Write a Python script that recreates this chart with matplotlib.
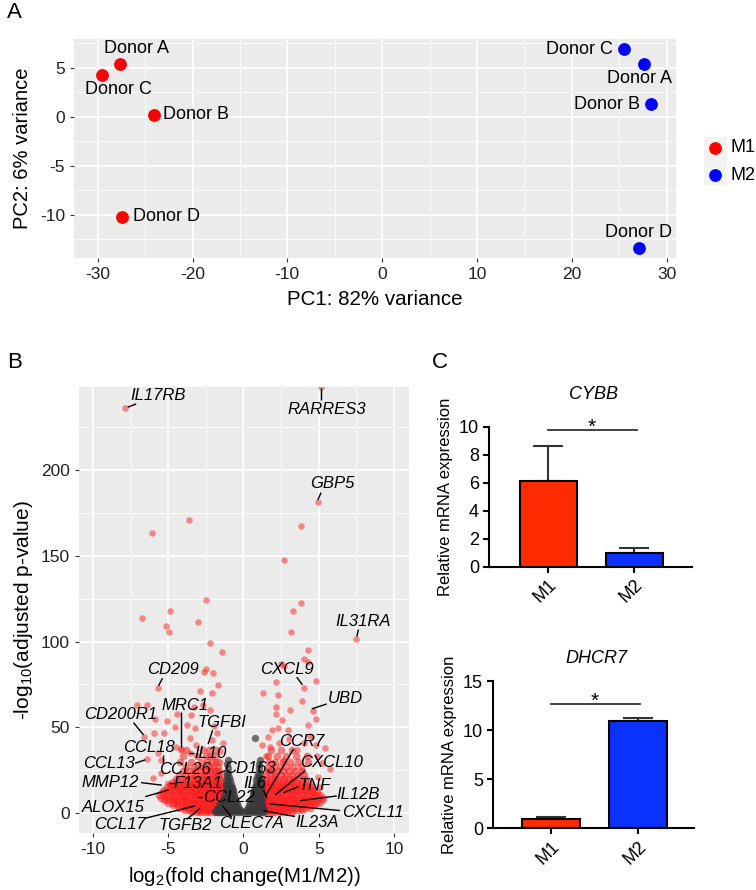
import matplotlib
matplotlib.use("Agg")
import matplotlib.pyplot as plt
import numpy as np
from matplotlib.patches import Rectangle

plt.rcParams['font.family'] = ['Liberation Sans', 'DejaVu Sans']
plt.rcParams['axes.unicode_minus'] = False

# ---------------- data: panel A (PCA) ----------------
donors = ['Donor A', 'Donor B', 'Donor C', 'Donor D']
m1_pc1 = [-27.6, -24.1, -29.5, -27.4]
m1_pc2 = [5.4, 0.15, 4.3, -10.25]
m2_pc1 = [27.6, 28.4, 25.5, 27.1]
m2_pc2 = [5.4, 1.35, 6.9, -13.35]
groups = ['M1', 'M2']
group_colors = ['#FF0000', '#0000FF']

# label positions (text centres) for the donors
m1_lab_x = [-25.9, -19.6, -27.8, -22.7]
m1_lab_y = [6.95, 0.2, 2.8, -10.2]
m2_lab_x = [27.1, 23.7, 20.8, 27.0]
m2_lab_y = [3.9, 1.3, 6.85, -11.75]

# ---------------- data: panel B (volcano) ----------------
# dense part of the cloud, read row by row: (y, [x values])
red_left_rows = [
    (0.3, [-3.4, -3.1, -2.9, -2.6, -2.4, -2.2, -1.9, -1.7, -1.5, -1.3, -1.1]),
    (1.5, [-3.9, -3.6, -3.3, -3.0, -2.8, -2.5, -2.3, -2.0, -1.8, -1.6, -1.4, -1.2, -1.0]),
    (3.0, [-4.3, -4.0, -3.7, -3.5, -3.2, -2.9, -2.7, -2.4, -2.2, -1.9, -1.7, -1.5, -1.3, -1.1]),
    (4.5, [-4.7, -4.4, -4.1, -3.8, -3.5, -3.3, -3.0, -2.7, -2.5, -2.2, -2.0, -1.8, -1.6, -1.4, -1.2]),
    (6.0, [-5.0, -4.7, -4.4, -4.1, -3.9, -3.6, -3.3, -3.1, -2.8, -2.6, -2.3, -2.1, -1.9, -1.7, -1.5, -1.2]),
    (7.5, [-5.3, -5.0, -4.7, -4.5, -4.2, -3.9, -3.7, -3.4, -3.1, -2.9, -2.6, -2.4, -2.2, -2.0, -1.7, -1.5, -1.3]),
    (9.0, [-5.5, -5.2, -4.9, -4.6, -4.3, -4.0, -3.8, -3.5, -3.2, -3.0, -2.7, -2.5, -2.3, -2.0, -1.8, -1.6, -1.3]),
    (10.5, [-5.6, -5.3, -5.0, -4.7, -4.4, -4.1, -3.8, -3.6, -3.3, -3.1, -2.8, -2.6, -2.3, -2.1, -1.9, -1.6, -1.4]),
    (12.0, [-5.4, -5.1, -4.8, -4.5, -4.2, -4.0, -3.7, -3.4, -3.2, -2.9, -2.7, -2.4, -2.2, -2.0, -1.7, -1.5, -1.3]),
    (13.5, [-5.3, -4.9, -4.6, -4.3, -4.1, -3.8, -3.5, -3.3, -3.0, -2.8, -2.5, -2.3, -2.1, -1.8, -1.6, -1.4]),
    (15.0, [-5.1, -4.8, -4.5, -4.2, -3.9, -3.6, -3.4, -3.1, -2.9, -2.6, -2.4, -2.2, -1.9, -1.7, -1.5]),
    (16.5, [-4.9, -4.6, -4.3, -4.0, -3.7, -3.5, -3.2, -3.0, -2.7, -2.5, -2.3, -2.0, -1.8, -1.6, -1.4]),
    (18.0, [-4.7, -4.4, -4.1, -3.8, -3.6, -3.3, -3.1, -2.8, -2.6, -2.4, -2.1, -1.9, -1.7, -1.5]),
    (20.0, [-4.5, -4.1, -3.8, -3.5, -3.2, -3.0, -2.7, -2.5, -2.2, -2.0, -1.8, -1.6]),
    (22.0, [-4.3, -3.9, -3.5, -3.2, -2.9, -2.6, -2.4, -2.1, -1.9, -1.7, -1.5]),
    (24.5, [-4.0, -3.6, -3.2, -2.8, -2.5, -2.2, -2.0, -1.8, -1.6]),
    (27.0, [-3.8, -3.3, -3.0, -2.6, -2.3, -2.0, -1.7]),
    (30.0, [-4.2, -3.5, -2.8, -2.4, -2.1, -1.8, -1.6]),
    (33.5, [-4.0, -3.1, -2.5, -2.2, -1.9]),
    (37.0, [-3.8, -2.7, -2.3, -1.8]),
]
red_right_rows = [
    (0.3, [1.1, 1.3, 1.5, 1.7, 1.9, 2.1, 2.4, 2.6, 2.9, 3.2]),
    (1.5, [1.0, 1.2, 1.4, 1.6, 1.8, 2.0, 2.3, 2.5, 2.8, 3.0, 3.3, 3.6, 3.9]),
    (3.0, [1.1, 1.3, 1.5, 1.7, 1.9, 2.2, 2.4, 2.7, 2.9, 3.2, 3.5, 3.8, 4.1, 4.4]),
    (4.5, [1.1, 1.3, 1.5, 1.7, 2.0, 2.2, 2.5, 2.7, 3.0, 3.3, 3.5, 3.8, 4.1, 4.4, 4.7]),
    (6.0, [1.2, 1.4, 1.6, 1.8, 2.1, 2.3, 2.6, 2.8, 3.1, 3.4, 3.6, 3.9, 4.2, 4.5, 4.8, 5.0]),
    (7.5, [1.2, 1.4, 1.7, 1.9, 2.1, 2.4, 2.6, 2.9, 3.2, 3.4, 3.7, 4.0, 4.3, 4.6, 4.9, 5.2]),
    (9.0, [1.2, 1.5, 1.7, 1.9, 2.2, 2.4, 2.7, 3.0, 3.2, 3.5, 3.8, 4.1, 4.4, 4.7, 5.0, 5.3]),
    (10.5, [1.3, 1.5, 1.7, 2.0, 2.2, 2.5, 2.8, 3.0, 3.3, 3.6, 3.9, 4.2, 4.5, 4.8, 5.1]),
    (12.0, [1.3, 1.5, 1.8, 2.0, 2.3, 2.5, 2.8, 3.1, 3.4, 3.7, 4.0, 4.3, 4.6, 4.9]),
    (13.5, [1.3, 1.6, 1.8, 2.1, 2.3, 2.6, 2.9, 3.2, 3.5, 3.8, 4.1, 4.4, 4.7]),
    (15.0, [1.4, 1.6, 1.9, 2.1, 2.4, 2.7, 3.0, 3.3, 3.6, 3.9, 4.2, 4.5]),
    (16.5, [1.4, 1.7, 1.9, 2.2, 2.5, 2.8, 3.1, 3.4, 3.7, 4.0, 4.4]),
    (18.0, [1.4, 1.7, 2.0, 2.3, 2.6, 2.9, 3.2, 3.5, 3.9, 4.2]),
    (20.0, [1.5, 1.8, 2.1, 2.4, 2.7, 3.0, 3.3, 3.7, 4.1]),
    (22.0, [1.5, 1.8, 2.1, 2.5, 2.8, 3.2, 3.6, 4.0]),
    (24.5, [1.6, 1.9, 2.3, 2.6, 3.0, 3.4, 3.9]),
    (27.0, [1.6, 2.0, 2.4, 2.8, 3.3, 3.8]),
    (30.0, [1.7, 2.1, 2.6, 3.1, 3.6, 4.3]),
    (33.5, [1.6, 2.2, 2.8, 3.5, 4.2]),
    (37.0, [1.8, 2.5, 3.2]),
]
gray_rows = [
    (0.3, [-1.9, -1.7, -1.5, -1.3, -1.1, -0.9, -0.7, -0.5, -0.3, -0.1, 0.1, 0.3, 0.5, 0.7, 0.9, 1.1, 1.3]),
    (1.5, [-1.8, -1.6, -1.4, -1.2, -1.0, -0.8, -0.6, -0.4, -0.2, 0.2, 0.4, 0.6, 0.8, 1.0, 1.2, 1.35]),
    (3.0, [-1.7, -1.5, -1.3, -1.1, -0.9, -0.7, -0.5, -0.3, 0.3, 0.5, 0.7, 0.9, 1.1, 1.3]),
    (4.5, [-1.6, -1.4, -1.2, -1.0, -0.8, -0.6, -0.4, 0.4, 0.6, 0.8, 1.0, 1.2]),
    (6.0, [-1.45, -1.25, -1.05, -0.85, -0.65, -0.45, 0.45, 0.65, 0.85, 1.05, 1.2]),
    (7.5, [-1.35, -1.15, -0.95, -0.75, -0.55, 0.5, 0.7, 0.9, 1.1, 1.2]),
    (9.0, [-1.3, -1.1, -0.9, -0.7, -0.55, 0.55, 0.75, 0.95, 1.15]),
    (10.5, [-1.2, -1.05, -0.9, -0.75, -0.6, 0.6, 0.75, 0.9, 1.05, 1.15]),
    (12.0, [-1.15, -1.0, -0.85, -0.7, 0.65, 0.8, 0.95, 1.1]),
    (13.5, [-1.15, -1.0, -0.85, -0.7, 0.7, 0.85, 1.0, 1.15]),
    (15.0, [-1.15, -1.0, -0.85, -0.75, 0.75, 0.85, 1.0, 1.15]),
    (17.0, [-1.15, -1.0, -0.85, 0.8, 0.95, 1.1]),
    (19.0, [-1.15, -1.0, -0.9, 0.85, 1.0, 1.15]),
    (21.0, [-1.1, -0.95, 0.9, 1.05]),
    (23.5, [-1.1, -1.0, 0.95, 1.1]),
    (26.0, [-1.05, 1.0]),
    (28.5, [-1.1, 1.05]),
    (31.0, [-1.0, 1.1]),
    (44.0, [0.78]),
]
# scattered significant genes above the dense cloud
red_scatter_x = [-7.9, -6.07, -3.6, -2.5, -4.87, -6.76, -5.14, -3.01, -4.94, -2.21, -1.4,
                 -2.5, -2.61, -2.01, -1.66, -5.65, -2.86, -2.06, -7.1, -6.42, -5.9, -5.1,
                 -4.45, -3.28, -2.68, -2.21, -3.52, -4.54, -3.74, -3.19, -6.64, -5.93, -5.3,
                 -3.54, -3.17, -1.99, -2.12, -4.5, -4.12, -6.4, -5.71, -5.45, -1.73, -1.33,
                 -1.55, -4.14, -3.55, -5.0, -6.0, -5.45,
                 5.13, 4.93, 3.8, 2.66, 3.85, 3.28, 3.19, 7.49, 4.32, 4.05, 4.3, 2.48, 2.72,
                 4.8, 4.05, 2.17, 1.33, 2.28, 3.92, 3.1, 2.13, 4.65, 4.8, 2.17, 2.55, 4.27,
                 2.28, 2.94, 1.88, 1.62, 4.43, 4.05, 5.43, 4.8, 1.22, 1.77, 2.33, 3.54, 4.87,
                 5.2, 5.76, 4.98, 5.1, 3.0, 1.5, 2.6]
red_scatter_y = [236.5, 163.5, 171, 124, 118, 114, 109.3, 111.3, 105.8, 99.4, 94.1,
                 83.8, 82.5, 81.7, 74.7, 73, 71.2, 70, 63.2, 63, 54.6, 53.7,
                 57.6, 61.6, 63.2, 60, 57.3, 50.3, 51.5, 49.6, 44.5, 46.8, 46.5,
                 44, 39.4, 51, 42.6, 38.7, 37.3, 31.7, 35, 31, 46.5, 40.7,
                 36.3, 37, 34.8, 17.5, 20.5, 23.5,
                 248.5, 181.5, 167.5, 147.6, 122.3, 118, 105.6, 101.7, 95.1, 90, 88, 86.9, 85.8,
                 77, 72.8, 76.2, 69.8, 68.8, 65.5, 60, 62, 59.7, 54.6, 57.8, 54.3, 51.3,
                 49.4, 48.4, 48.4, 44.5, 44.9, 41, 37.7, 39.7, 39.7, 38.7, 40.7, 36.8, 33.3,
                 29.3, 25.5, 21.2, 15.4, 43.0, 33.0, 31.0]

# gene labels: text centre, then the leader segment (start -> end)
genes = ['IL17RB', 'RARRES3', 'GBP5', 'IL31RA', 'CD209', 'CXCL9', 'UBD', 'CD200R1',
         'MRC1', 'TGFBI', 'CCL18', 'IL10', 'CCL13', 'CCL26', 'CD163', 'MMP12', 'F13A1',
         'IL6', 'CCR7', 'CXCL10', 'TNF', 'IL12B', 'CCL22', 'ALOX15', 'CXCL11', 'CCL17',
         'TGFB2', 'CLEC7A', 'IL23A']
gene_tx = [-5.69, 5.54, 5.94, 7.97, -4.7, 2.88, 6.76, -8.19, -3.87, -1.4, -6.27, -2.16,
           -8.97, -3.92, 0.42, -8.86, -3.05, 0.73, 3.88, 5.83, 4.72, 7.6, -0.95, -8.64,
           8.57, -8.19, -3.87, 0.55, 4.87]
gene_ty = [243.3, 235.5, 192, 111.6, 83.4, 83.4, 66.9, 57.6, 62.4, 52.7, 38.1, 34.8,
           29, 25.6, 25.7, 17.7, 17.2, 17.3, 41.6, 29.3, 16.3, 10.5, 9.2, 3.3,
           0.4, -6.6, -7.6, -6.4, -5.7]
seg_x0 = [-7.13, 5.13, 5.16, 7.64, -5.38, 3.54, 5.54, -7.31, -4.14, -2.05, -5.37, -3.26,
          -7.2, None, -1.22, -6.8, -4.6, 1.33, 3.32, 4.1, 3.65, 6.2, -2.77, -6.53,
          6.42, -6.53, -3.77, -0.78, 3.43]
seg_y0 = [238.6, 241, 186.9, 107, 78.6, 79.2, 63.6, 52.7, 59, 48.3, 34, 34.8,
          29, None, 24.7, 17.7, 17.2, 13.4, 37.3, 24.7, 15.3, 9.9, 9.2, 9.5,
          1.4, -3.1, -3.7, -2.5, -2.1]
seg_x1 = [-7.69, 5.13, 4.94, 7.53, -5.65, 3.92, 4.54, -6.64, -4.14, -2.35, -5.37, -3.6,
          -6.53, None, -1.77, -5.43, -4.95, 1.55, 1.44, 2.1, 2.66, 3.77, -3.04, -4.98,
          1.71, -3.21, -2.88, -1.4, 1.33]
seg_y1 = [236.7, 248, 182.6, 102.9, 74.1, 74.7, 60.7, 45.5, 38.7, 40.2, 28.9, 34.8,
          31, None, 22.8, 16.2, 17.2, 8.6, 9.5, 10.5, 11.8, 7.2, 9.2, 13.4,
          5.3, 4.1, 2.7, 4.1, 1.3]

# ---------------- data: panel C (qPCR) ----------------
conds = ['M1', 'M2']
bar_colors = ['#FF2A00', '#0A32FF']
cybb_mean = [6.15, 1.0]
cybb_err = [2.45, 0.33]
dhcr7_mean = [0.93, 10.95]
dhcr7_err = [0.22, 0.27]


def rows_to_xy(rows):
    xs, ys = [], []
    for y, row in rows:
        for x in row:
            xs.append(x)
            ys.append(y)
    return xs, ys


fig = plt.figure(figsize=(7.56, 8.9), dpi=100)

# ================= Panel A =================
axA = fig.add_axes([74 / 756, 1 - 258 / 890, 602 / 756, 219 / 890])
axA.set_facecolor('#EBEBEB')
axA.scatter(m1_pc1, m1_pc2, s=85, color=group_colors[0], zorder=3, linewidths=0)
axA.scatter(m2_pc1, m2_pc2, s=85, color=group_colors[1], zorder=3, linewidths=0)
for i, d in enumerate(donors):
    axA.text(m1_lab_x[i], m1_lab_y[i], d, fontsize=13, ha='center', va='center', zorder=4)
    axA.text(m2_lab_x[i], m2_lab_y[i], d, fontsize=13, ha='center', va='center', zorder=4)
axA.set_xlim(-32.5, 31.0)
axA.set_ylim(-14.4, 7.95)
axA.set_xticks([-30, -20, -10, 0, 10, 20, 30])
axA.set_xticks([-25, -15, -5, 5, 15, 25], minor=True)
axA.set_yticks([-10, -5, 0, 5])
axA.set_yticks([-12.5, -7.5, -2.5, 2.5, 7.5], minor=True)
axA.grid(which='major', color='white', lw=1.2)
axA.grid(which='minor', color='white', lw=0.6)
axA.set_axisbelow(True)
for s in axA.spines.values():
    s.set_visible(False)
axA.tick_params(which='major', length=3, color='#333333', labelsize=12.5, labelcolor='#222222')
axA.tick_params(which='minor', length=0)
axA.set_xlabel('PC1: 82% variance', fontsize=14.8, labelpad=6)
axA.set_ylabel('PC2: 6% variance', fontsize=14.5, labelpad=6)

# legend drawn by hand in its own small axes
axL = fig.add_axes([704 / 756, 1 - 185 / 890, 50 / 756, 48 / 890])
axL.set_xlim(0, 50)
axL.set_ylim(48, 0)
axL.axis('off')
axL.add_patch(Rectangle((0, 0), 23, 48, facecolor='#F2F2F2', edgecolor='none', zorder=0))
for i, g in enumerate(groups):
    axL.scatter([11], [11 + 27 * i], s=85, color=group_colors[i], linewidths=0, zorder=2,
                clip_on=False)
    axL.text(26, 11 + 27 * i, g, fontsize=13, va='center', ha='left')

# ================= Panel B =================
axB = fig.add_axes([79 / 756, 1 - 833 / 890, 330 / 756, 446 / 890])
axB.set_facecolor('#EBEBEB')
rx1, ry1 = rows_to_xy(red_left_rows)
rx2, ry2 = rows_to_xy(red_right_rows)
gx, gy = rows_to_xy(gray_rows)
axB.scatter(rx1 + rx2, ry1 + ry2, s=30, color='#FF2020', alpha=0.55, linewidths=0, zorder=2)
axB.scatter(red_scatter_x, red_scatter_y, s=22, color='#FF2020', alpha=0.5, linewidths=0, zorder=2)
axB.scatter(gx, gy, s=28, color='#3A3A3A', alpha=0.7, linewidths=0, zorder=3)
for i, g in enumerate(genes):
    axB.text(gene_tx[i], gene_ty[i], g, fontsize=12, style='italic', ha='center',
             va='center', zorder=5)
    if seg_x0[i] is not None:
        axB.plot([seg_x0[i], seg_x1[i]], [seg_y0[i], seg_y1[i]], color='black', lw=1,
                 zorder=4, solid_capstyle='butt')
axB.set_xlim(-10.93, 11.0)
axB.set_ylim(-11.7, 248.5)
axB.set_xticks([-10, -5, 0, 5, 10])
axB.set_xticks([-7.5, -2.5, 2.5, 7.5], minor=True)
axB.set_yticks([0, 50, 100, 150, 200])
axB.set_yticks([25, 75, 125, 175, 225], minor=True)
axB.grid(which='major', color='white', lw=1.2)
axB.grid(which='minor', color='white', lw=0.6)
axB.set_axisbelow(True)
for s in axB.spines.values():
    s.set_visible(False)
axB.tick_params(which='major', length=3, color='#333333', labelsize=12.5, labelcolor='#222222')
axB.tick_params(which='minor', length=0)
axB.set_xlabel(r'log$_{\mathregular{2}}$(fold change(M1/M2))', fontsize=14.8, labelpad=6)
axB.set_ylabel(r'-log$_{\mathregular{10}}$(adjusted p-value)', fontsize=15, labelpad=4)


# ================= Panel C =================
def bar_panel(rect, means, errs, ylim, yticks, xlim, title, title_y, sig_y, star_y):
    ax = fig.add_axes(rect)
    xpos = np.arange(len(conds))
    ax.bar(xpos, means, width=0.67, color=bar_colors, edgecolor='black', linewidth=1.5, zorder=2)
    ax.errorbar(xpos, means, yerr=[np.zeros(len(errs)), errs], fmt='none', ecolor='#333333',
                elinewidth=1.5, capsize=11, capthick=1.5, zorder=1)
    ax.set_xlim(*xlim)
    ax.set_ylim(*ylim)
    ax.set_yticks(yticks)
    ax.set_xticks(xpos)
    ax.set_xticklabels(conds, rotation=45, ha='right', rotation_mode='anchor', fontsize=13)
    for s in ['top', 'right']:
        ax.spines[s].set_visible(False)
    for s in ['left', 'bottom']:
        ax.spines[s].set_linewidth(1.5)
    ax.tick_params(width=1.5, length=4, labelsize=13)
    ax.tick_params(axis='x', pad=3)
    ax.set_ylabel('Relative mRNA expression', fontsize=12, labelpad=4)
    ax.text(0.52, title_y, title, style='italic', fontsize=13, ha='center', va='center')
    ax.plot([0, 1.03], [sig_y, sig_y], color='#333333', lw=1.3, clip_on=False)
    ax.text(0.5, star_y, '*', fontsize=15, ha='center', va='baseline')
    return ax


bar_panel([489.3 / 756, 1 - 566.7 / 890, 202.4 / 756, 140 / 890], cybb_mean, cybb_err,
          (0, 10), [0, 2, 4, 6, 8, 10], (-0.69, 1.67), 'CYBB', 12.3, 9.76, 9.55)
bar_panel([493.3 / 756, 1 - 828.3 / 890, 201 / 756, 147.3 / 890], dhcr7_mean, dhcr7_err,
          (0, 15), [0, 5, 10, 15], (-0.66, 1.65), 'DHCR7', 17.3, 12.65, 12.4)

# panel letters
fig.text(14 / 756, 1 - 12 / 890, 'A', fontsize=16, ha='center', va='center')
fig.text(15 / 756, 1 - 362 / 890, 'B', fontsize=16, ha='center', va='center')
fig.text(440 / 756, 1 - 362 / 890, 'C', fontsize=16, ha='center', va='center')

fig.savefig('out.png', dpi=100)
